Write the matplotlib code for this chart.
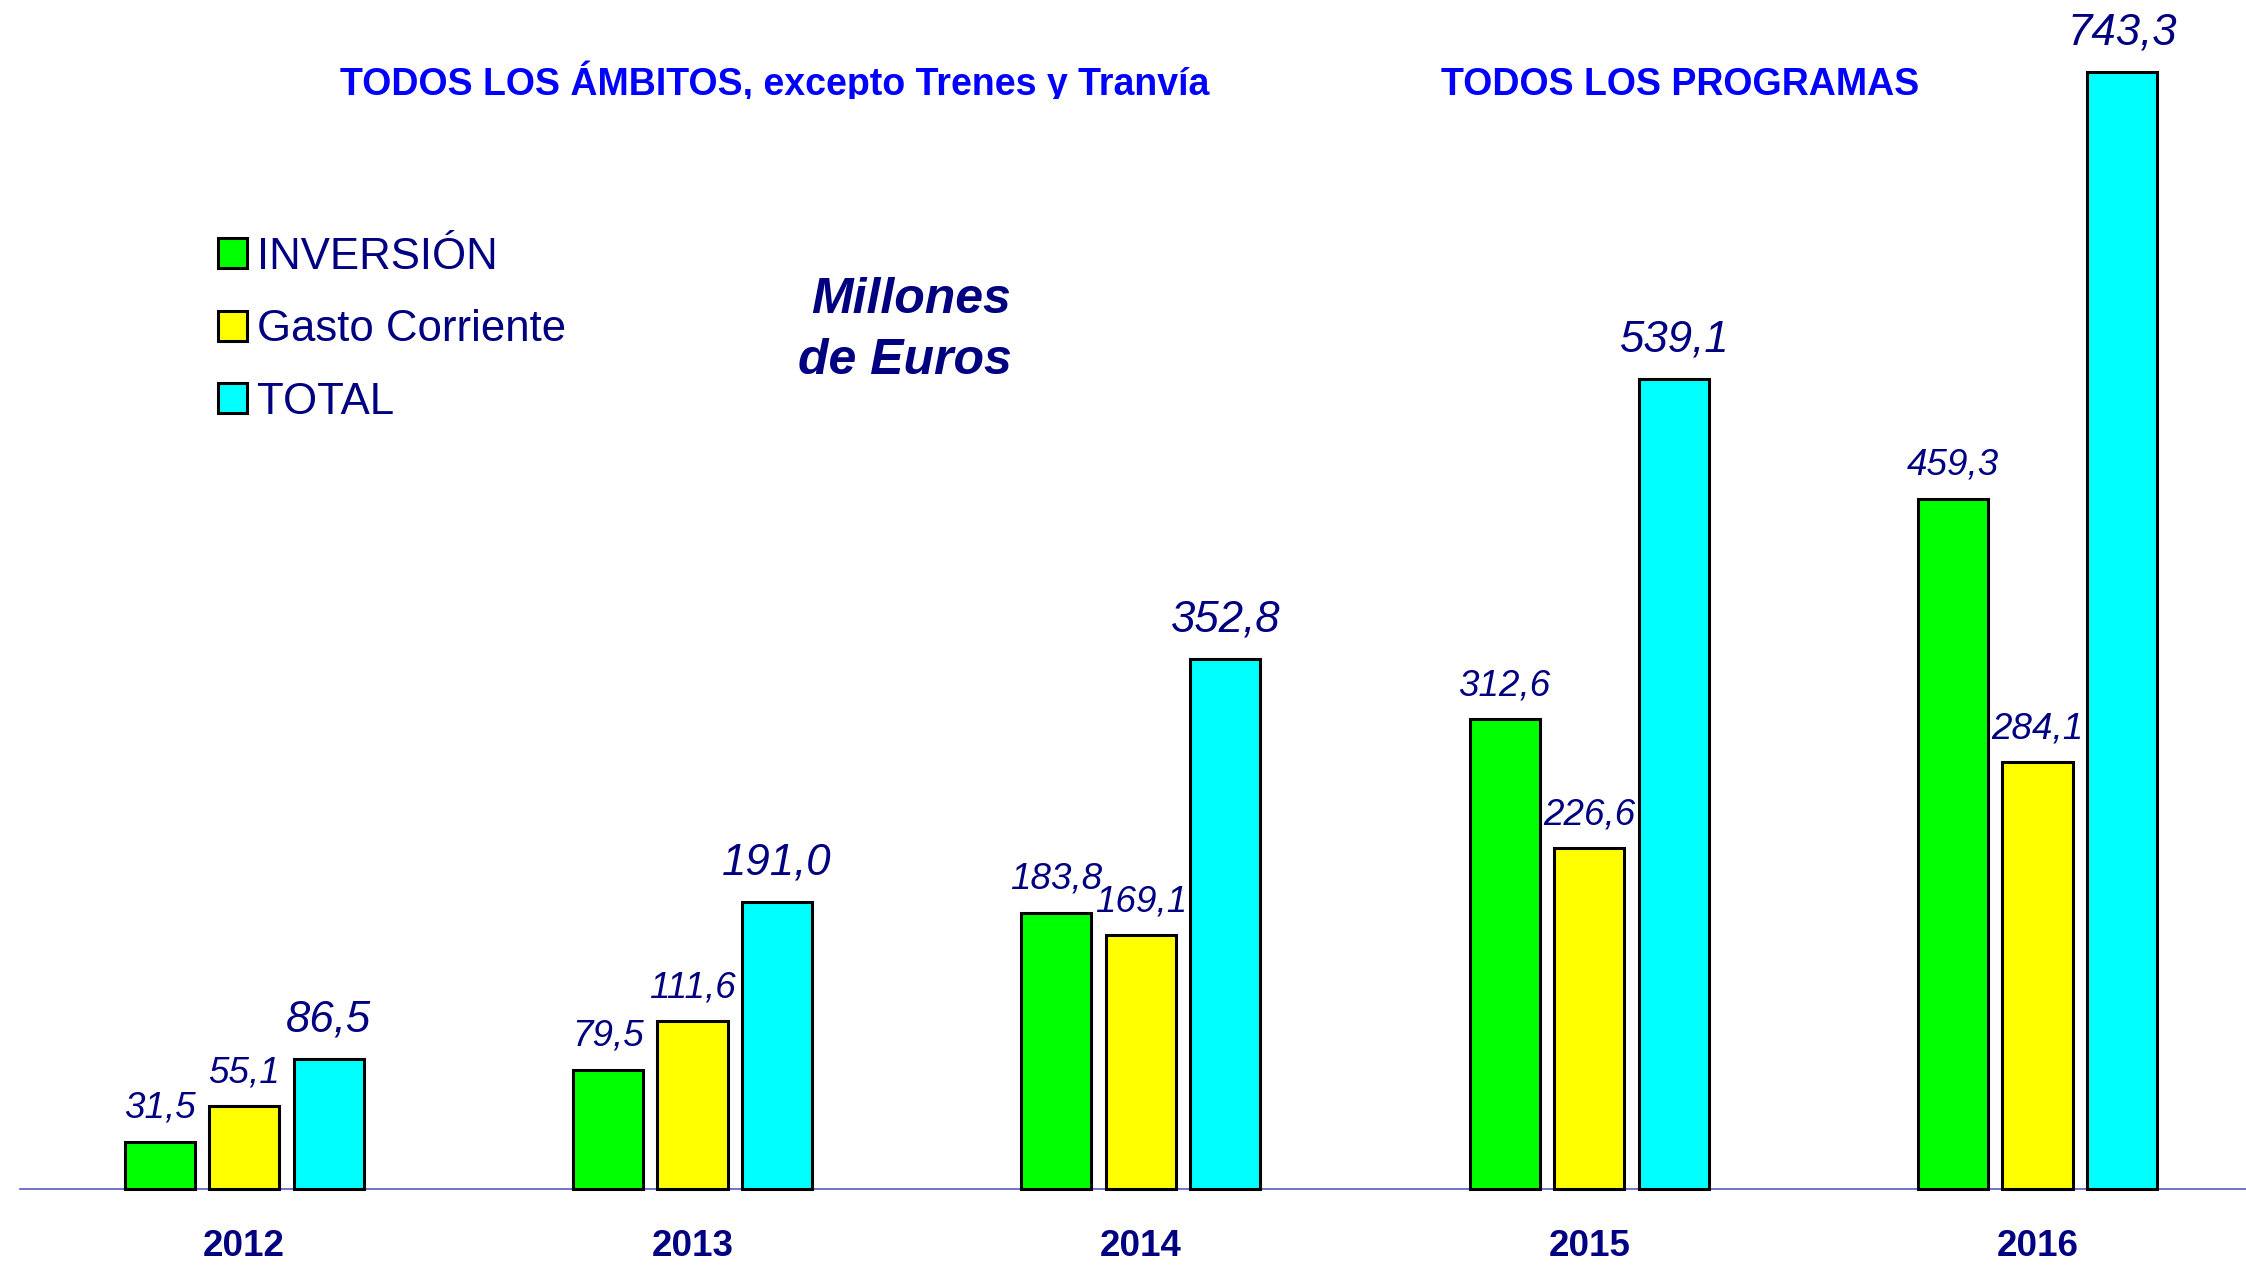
import numpy as np
import matplotlib.pyplot as plt
from matplotlib.patches import Rectangle

# data (millones de euros)
years = ["2012", "2013", "2014", "2015", "2016"]
inversion = [31.5, 79.5, 183.8, 312.6, 459.3]
gasto_corriente = [55.1, 111.6, 169.1, 226.6, 284.1]
total = [86.5, 191.0, 352.8, 539.1, 743.3]
series_names = ["INVERSIÓN", "Gasto Corriente", "TOTAL"]

colors = ["#00ff00", "#ffff00", "#00ffff"]
navy = "#000080"

plt.rcParams['font.family'] = ['Liberation Sans', 'DejaVu Sans']

def fmt(v):
    return f"{v:.1f}".replace(".", ",")

def main():
    fig = plt.figure(figsize=(22.46, 12.65), dpi=100)
    ax = fig.add_axes([0, 0, 1, 1])
    ax.axis("off")
    ax.set_xlim(-0.5447, 4.4649)
    ax.set_ylim(-50.5, 790.9)

    x = np.arange(len(years))
    width = 0.1565
    step = 0.1885
    bars = []
    for k, vals in enumerate([inversion, gasto_corriente, total]):
        b = ax.bar(x + (k - 1) * step, vals, width, color=colors[k],
                   edgecolor="black", linewidth=2.2, zorder=3)
        bars.append(b)
        big = (k == 2)
        for xi, v in zip(x + (k - 1) * step, vals):
            ax.annotate(fmt(v), (xi, v), xytext=(0, 28 if big else 24),
                        textcoords="offset points", ha="center", va="center",
                        fontsize=31.5 if big else 26.5, style="italic", color=navy)

    # baseline
    ax.axhline(0, xmin=0.0089, xmax=1, color="#5a5ac8", linewidth=1.2, zorder=2)

    for xi, yr in zip(x, years):
        ax.text(xi, -38.2, yr, ha="center", va="center", fontsize=26.5,
                fontweight="bold", color=navy)

    # headings (the originals have their descenders cut)
    clip = Rectangle((0, 0.922), 1, 0.078, transform=fig.transFigure)
    t1 = fig.text(0.345, 0.9354, "TODOS LOS ÁMBITOS, excepto Trenes y Tranvía",
                  ha="center", va="center", fontsize=27, fontweight="bold",
                  color="#0000ff")
    t1.set_clip_path(clip)
    t2 = fig.text(0.748, 0.9331, "TODOS LOS PROGRAMAS", ha="center", va="center",
                  fontsize=27, fontweight="bold", color="#0000ff")
    t2.set_clip_path(clip)

    fig.text(0.4503, 0.739, "Millones\nde Euros", ha="right", va="center",
             multialignment="right", fontsize=36, fontweight="bold",
             style="italic", color=navy, linespacing=1.42)

    ax.legend(bars, series_names, loc="upper left", bbox_to_anchor=(0.097, 0.813),
              frameon=False, fontsize=31.5, labelcolor=navy, handlelength=0.67,
              handleheight=0.67, handletextpad=0.22, labelspacing=0.72,
              borderpad=0, borderaxespad=0)

    fig.savefig("out.png", dpi=100)

if __name__ == "__main__":
    main()
